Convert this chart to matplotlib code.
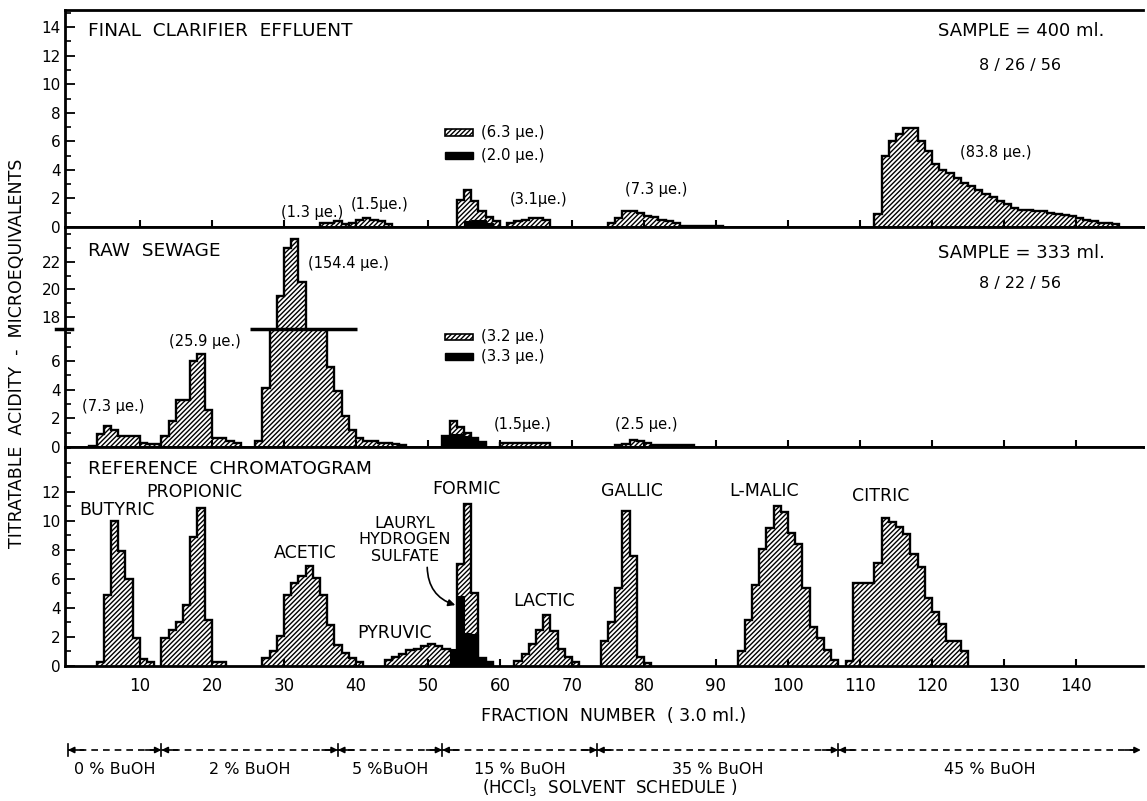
import numpy as np
import matplotlib.pyplot as plt
from matplotlib import transforms
from matplotlib.patches import Rectangle
from matplotlib.ticker import FixedLocator, MultipleLocator

plt.rcParams['font.family'] = ['DejaVu Sans']
plt.rcParams['hatch.color'] = 'black'
plt.rcParams['hatch.linewidth'] = 1.0

# each run: first fraction number, then titratable acidity (microequivalents) per fraction
# final clarifier effluent, 8/26/56
eff_starts = [35, 39, 54, 61, 75, 112]
eff_runs = [
    [0.3, 0.3, 0.4, 0.2],
    [0.3, 0.5, 0.6, 0.5, 0.4, 0.2],
    [1.9, 2.6, 1.8, 1.1, 0.7, 0.4],
    [0.3, 0.4, 0.5, 0.6, 0.6, 0.5],
    [0.3, 0.6, 1.1, 1.1, 0.95, 0.8, 0.7, 0.5, 0.4, 0.3,
     0.1, 0.1, 0.1, 0.1, 0.1, 0.1],
    [0.9, 5.0, 6.0, 6.5, 6.9, 6.9, 6.0, 5.3, 4.4, 4.0, 3.8, 3.4, 3.1, 2.9,
     2.6, 2.3, 2.1, 1.8, 1.6, 1.3, 1.2, 1.2, 1.1, 1.1, 1.0, 0.9, 0.85, 0.8,
     0.6, 0.5, 0.4, 0.3, 0.25, 0.2],
]
eff_black_starts = [55]
eff_black_runs = [[0.4, 0.5, 0.5, 0.3]]

# raw sewage, 8/22/56
sew_starts = [3, 13, 26, 52, 60, 76]
sew_runs = [
    [0.1, 0.9, 1.5, 1.2, 0.8, 0.8, 0.8, 0.3, 0.2, 0.2],
    [0.8, 1.8, 3.3, 3.3, 6.0, 6.5, 2.6, 0.65, 0.6, 0.45, 0.25],
    [0.45, 4.1, 14.0, 19.5, 23.0, 23.6, 20.5, 15.0, 12.0, 10.0, 5.6, 3.9,
     2.2, 1.2, 0.6, 0.4, 0.4, 0.3, 0.3, 0.2, 0.15],
    [0.8, 1.8, 1.4, 1.0, 0.65, 0.35],
    [0.25, 0.25, 0.25, 0.25, 0.25, 0.25, 0.25],
    [0.15, 0.2, 0.5, 0.45, 0.3, 0.12, 0.12, 0.12, 0.12, 0.12, 0.12],
]
sew_black_starts = [52]
sew_black_runs = [[0.8, 0.9, 0.9, 0.8, 0.6, 0.35]]

# reference chromatogram
ref_names = ['BUTYRIC', 'PROPIONIC', 'ACETIC', 'PYRUVIC', 'FORMIC',
             'LACTIC', 'GALLIC', 'L-MALIC', 'CITRIC']
ref_starts = [4, 13, 27, 44, 54, 62, 74, 93, 108]
ref_runs = [
    [0.3, 4.9, 10.0, 7.9, 6.0, 1.9, 0.5, 0.25],
    [1.9, 2.5, 3.0, 4.2, 8.9, 10.9, 3.2, 0.3, 0.25],
    [0.55, 1.05, 2.05, 4.9, 5.7, 6.2, 6.9, 6.1, 4.9, 2.8, 1.45, 0.9, 0.55, 0.25],
    [0.4, 0.6, 0.8, 1.1, 1.2, 1.35, 1.5, 1.35, 1.2, 1.05],
    [7.0, 11.2, 5.0, 0.55, 0.3],
    [0.35, 0.85, 1.55, 2.5, 3.5, 2.4, 1.2, 0.65, 0.3],
    [1.7, 3.0, 5.4, 10.7, 7.6, 0.65, 0.2],
    [1.05, 3.2, 5.6, 8.1, 9.5, 11.0, 10.6, 9.2, 8.4, 5.4, 2.7, 1.9, 1.1, 0.4],
    [0.35, 5.7, 5.7, 5.7, 7.1, 10.2, 9.9, 9.6, 9.1, 7.7, 6.8, 4.7, 3.7, 2.9,
     1.7, 1.7, 1.0],
]
lauryl_starts = [53]
lauryl_runs = [[1.2, 4.8, 2.3, 2.2, 0.5, 0.2]]

# solvent schedule (fraction numbers where the eluent changes)
sched_edges = [0, 13, 37.5, 52, 73.5, 107, 149]
sched_labels = ['0 % BuOH', '2 % BuOH', '5 %BuOH', '15 % BuOH', '35 % BuOH', '45 % BuOH']

HATCH = '///////'


def draw_runs(ax, starts, runs, black=False):
    for start, vals in zip(starts, runs):
        vals = np.asarray(vals, dtype=float)
        edges = start + np.arange(len(vals) + 1)
        if black:
            ax.stairs(vals, edges, fill=True, facecolor='black',
                      edgecolor='black', lw=0.8)
        else:
            ax.stairs(vals, edges, fill=True, facecolor='white',
                      edgecolor='black', hatch=HATCH, lw=1.7)


W, H = 1147, 801
fig = plt.figure(figsize=(W / 100, H / 100), dpi=100)
left, right = 65, 1143


def box(top, bottom):
    return [left / W, 1 - bottom / H, (right - left) / W, (bottom - top) / H]


ax_eff = fig.add_axes(box(10, 227))
ax_up = fig.add_axes(box(227, 329))
ax_lo = fig.add_axes(box(329, 447))
ax_ref = fig.add_axes(box(447, 666))
axes = [ax_eff, ax_up, ax_lo, ax_ref]

for ax in axes:
    ax.set_xlim(-0.4, 149.3)
    ax.spines['right'].set_visible(False)
    for s in ['left', 'top', 'bottom']:
        ax.spines[s].set_linewidth(2)
    ax.xaxis.set_major_locator(FixedLocator(range(10, 150, 10)))
    ax.tick_params(axis='x', direction='in', length=5, width=1.5,
                   labelbottom=False)
    ax.tick_params(axis='y', which='major', direction='in', length=7,
                   width=1.3, labelsize=11, pad=3)
    ax.tick_params(axis='y', which='minor', direction='in', length=4, width=1.2)
    ax.yaxis.set_minor_locator(MultipleLocator(1))

ax_eff.set_ylim(0, 15.2)
ax_eff.set_yticks(range(0, 15, 2))
ax_up.set_ylim(17.14, 24.5)
ax_up.set_yticks([18, 20, 22])
ax_up.spines['bottom'].set_visible(False)
ax_up.tick_params(axis='x', length=0)
ax_lo.set_ylim(0, 8.25)
ax_lo.set_yticks([0, 2, 4, 6])
ax_lo.spines['top'].set_visible(False)
ax_ref.set_ylim(0, 15.1)
ax_ref.set_yticks(range(0, 13, 2))
ax_ref.tick_params(axis='x', labelbottom=True, labelsize=12, pad=8)

# histograms
draw_runs(ax_eff, eff_starts, eff_runs)
draw_runs(ax_eff, eff_black_starts, eff_black_runs, black=True)
for ax in (ax_up, ax_lo):
    draw_runs(ax, sew_starts, sew_runs)
    draw_runs(ax, sew_black_starts, sew_black_runs, black=True)
draw_runs(ax_ref, ref_starts, ref_runs)
draw_runs(ax_ref, lauryl_starts, lauryl_runs, black=True)

# axis break on raw sewage panel
ax_lo.hlines(8.25, 25.3, 40.2, colors='black', lw=2.5, clip_on=False, zorder=5)
ax_lo.plot([-1.6, 0.6], [8.25, 8.25], color='black', lw=2.5, clip_on=False)

tk = dict(fontsize=13.3)
pk = dict(fontsize=10.5, ha='center', va='center')
lk = dict(fontsize=10.7, va='center')

# final clarifier effluent texts
ax_eff.text(2.8, 13.7, 'FINAL  CLARIFIER  EFFLUENT', va='center', **tk)
ax_eff.text(132.4, 13.7, 'SAMPLE = 400 ml.', ha='center', va='center', fontsize=13)
ax_eff.text(132.2, 11.3, '8 / 26 / 56', ha='center', va='center', fontsize=11.5)
ax_eff.text(33.9, 1.05, '(1.3 µe.)', **pk)
ax_eff.text(43.3, 1.55, '(1.5µe.)', **pk)
ax_eff.text(65.4, 1.9, '(3.1µe.)', **pk)
ax_eff.text(81.7, 2.6, '(7.3 µe.)', **pk)
ax_eff.text(128.8, 5.2, '(83.8 µe.)', **pk)
ax_eff.add_patch(Rectangle((52.4, 6.38), 3.8, 0.45, facecolor='white',
                           edgecolor='black', hatch=HATCH, lw=1.2))
ax_eff.add_patch(Rectangle((52.4, 4.75), 3.8, 0.5, color='black'))
ax_eff.text(57.3, 6.6, '(6.3 µe.)', **lk)
ax_eff.text(57.3, 5.0, '(2.0 µe.)', **lk)

# raw sewage texts
ax_up.text(2.8, 22.8, 'RAW  SEWAGE', va='center', **tk)
ax_up.text(132.4, 22.6, 'SAMPLE = 333 ml.', ha='center', va='center', fontsize=13)
ax_up.text(132.2, 20.4, '8 / 22 / 56', ha='center', va='center', fontsize=11.5)
ax_up.text(39.0, 21.9, '(154.4 µe.)', **pk)
ax_lo.text(6.3, 2.8, '(7.3 µe.)', **pk)
ax_lo.text(19.0, 7.4, '(25.9 µe.)', **pk)
ax_lo.text(63.2, 1.6, '(1.5µe.)', **pk)
ax_lo.text(80.3, 1.6, '(2.5 µe.)', **pk)
ax_lo.add_patch(Rectangle((52.4, 7.48), 3.8, 0.45, facecolor='white',
                          edgecolor='black', hatch=HATCH, lw=1.2))
ax_lo.add_patch(Rectangle((52.4, 6.05), 3.8, 0.5, color='black'))
ax_lo.text(57.3, 7.7, '(3.2 µe.)', **lk)
ax_lo.text(57.3, 6.3, '(3.3 µe.)', **lk)

# reference chromatogram texts
ax_ref.text(2.8, 13.6, 'REFERENCE  CHROMATOGRAM', va='center', **tk)
name_pos = [(6.8, 10.75), (17.5, 12.0), (32.9, 7.8), (45.3, 2.3), (55.4, 12.2),
            (66.1, 4.5), (78.3, 12.1), (96.7, 12.1), (112.9, 11.7)]
for name, (x, y) in zip(ref_names, name_pos):
    ax_ref.text(x, y, name, ha='center', va='center', fontsize=12.5)
ax_ref.text(46.8, 8.7, 'LAURYL\nHYDROGEN\nSULFATE', ha='center', va='center',
            fontsize=11.5, linespacing=1.1)
ax_ref.annotate('', xy=(53.8, 4.2), xytext=(49.9, 6.8),
                arrowprops=dict(arrowstyle='-|>', color='black', lw=1.2,
                                connectionstyle='arc3,rad=0.35',
                                mutation_scale=10, shrinkA=0, shrinkB=0))

# y label
fig.text(17 / W, 1 - 353 / H, 'TITRATABLE  ACIDITY  -  MICROEQUIVALENTS',
         rotation=90, ha='center', va='center', fontsize=12.5)

# x label and solvent schedule
trans = transforms.blended_transform_factory(ax_ref.transData, fig.transFigure)
fig.text(614 / W, 1 - 716 / H, 'FRACTION  NUMBER  ( 3.0 ml.)',
         ha='center', va='center', fontsize=12.5)
y_line = 1 - 750 / H
ax_ref.plot([sched_edges[0], sched_edges[-1]], [y_line, y_line], transform=trans,
            color='black', lw=1.2, ls=(0, (4, 3)), clip_on=False)
arrow = dict(arrowstyle='-|>', color='black', lw=1.2, mutation_scale=9,
             shrinkA=0, shrinkB=0)
for i, b in enumerate(sched_edges):
    if i < len(sched_edges) - 1:
        ax_ref.plot([b, b], [y_line - 0.008, y_line + 0.008], transform=trans,
                    color='black', lw=1.2, clip_on=False)
        ax_ref.annotate('', xy=(b, y_line), xytext=(b + 2.2, y_line),
                        xycoords=trans, textcoords=trans, arrowprops=arrow)
    if i > 0:
        ax_ref.annotate('', xy=(b, y_line), xytext=(b - 2.2, y_line),
                        xycoords=trans, textcoords=trans, arrowprops=arrow)
for a, b, lab in zip(sched_edges[:-1], sched_edges[1:], sched_labels):
    ax_ref.text((a + b) / 2, 1 - 769 / H, lab, transform=trans,
                ha='center', va='center', fontsize=11.5)
fig.text(610 / W, 1 - 787 / H, '(HCCl$_3$  SOLVENT  SCHEDULE )',
         ha='center', va='center', fontsize=12)

fig.savefig('out.png', dpi=100)
